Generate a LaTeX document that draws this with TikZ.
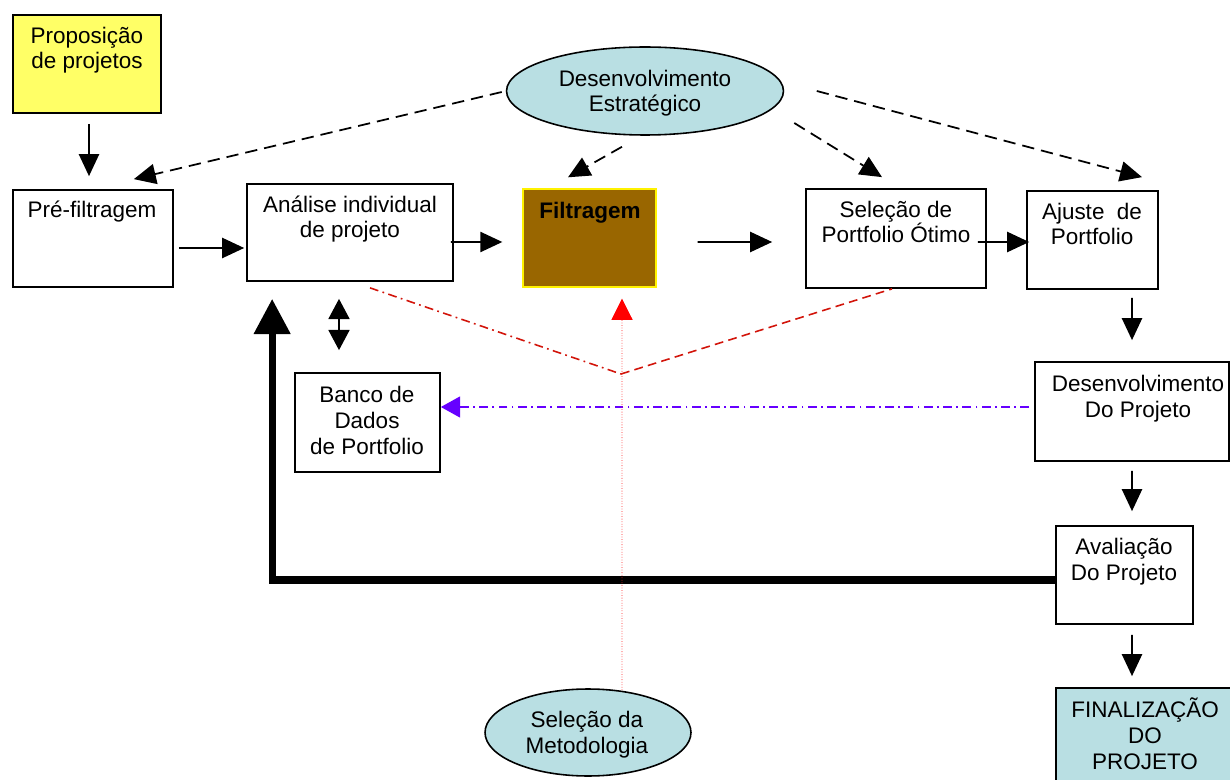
\documentclass[tikz,border=0pt]{standalone}
\usepackage{fontspec}
\setmainfont{Liberation Sans}
\usetikzlibrary{arrows.meta,shapes.geometric,calc}
\definecolor{lightteal}{RGB}{185,223,227}
\definecolor{propyellow}{RGB}{255,255,102}
\definecolor{filtbrown}{RGB}{153,102,0}
\definecolor{darkred}{RGB}{210,20,10}
\definecolor{purpleline}{RGB}{102,0,255}
\begin{document}
\begin{tikzpicture}[x=0.02cm,y=-0.02cm,
  box/.style={draw=black, line width=1pt, inner sep=0pt},
  ell/.style={ellipse, draw=black, line width=0.9pt, fill=lightteal, inner sep=0pt},
  txt/.style={anchor=base, align=center, inner sep=0pt, font=\fontsize{12.8}{14.6}\selectfont},
  arr/.style={line width=0.9pt, -{Triangle[length=12.5pt,width=11.5pt]}},
  dasharr/.style={arr, line width=1pt, dash pattern=on 7pt off 4pt},
  reddd/.style={draw=darkred, line width=0.9pt, dash pattern=on 5pt off 2.5pt on 1pt off 2.5pt},
  reddash/.style={draw=darkred, line width=0.9pt, dash pattern=on 5pt off 3pt},
  redarr/.style={draw=red!85, line width=0.45pt, densely dotted, -{Triangle[length=12pt,width=12pt,color=red]}},
  dbl/.style={line width=0.9pt, {Triangle[length=11.5pt,width=12pt]}-{Triangle[length=11.5pt,width=12pt]}},
  purp/.style={draw=purpleline, line width=0.9pt, dash pattern=on 5pt off 2.5pt on 1pt off 2.5pt, -{Triangle[length=11pt,width=12pt]}},
  fb/.style={line width=4pt, line join=miter, -{Triangle[length=20pt,width=20pt]}}
]
\useasboundingbox (0,0) rectangle (1230,780);
\clip (0,0) rectangle (1230,780);

% boxes
\node[box, fill=propyellow, minimum width=2.96cm, minimum height=1.96cm] (prop) at (87,64) {};
\node[txt] (prop-t) at (87,69) {Proposição\\de projetos};
\node[box, minimum width=3.2cm, minimum height=1.94cm] (pre) at (93,238.5) {};
\node[txt] (pre-t) at (92,218) {Pré-filtragem};
\node[box, minimum width=4.12cm, minimum height=1.94cm] (ana) at (350,232.5) {};
\node[txt] (ana-t) at (350,238) {Análise individual\\de projeto};
\node[draw=yellow, line width=0.8pt, fill=filtbrown, inner sep=0pt, minimum width=2.66cm, minimum height=1.96cm] (filt) at (589.5,238) {};
\node[txt, font=\fontsize{12.8}{14.6}\selectfont\bfseries] (filt-t) at (590,219) {Filtragem};
\node[box, minimum width=3.6cm, minimum height=1.98cm] (sel) at (896,238.5) {};
\node[txt] (sel-t) at (896,243) {Seleção de\\Portfolio Ótimo};
\node[box, minimum width=2.62cm, minimum height=1.96cm] (aju) at (1092.5,240) {};
\node[txt] (aju-t) at (1092,245) {Ajuste\ \ de\\Portfolio};
\node[box, minimum width=3.88cm, minimum height=1.98cm] (dev) at (1132,411.5) {};
\node[txt] (dev-t) at (1138,417) {Desenvolvimento\\Do Projeto};
\node[box, minimum width=2.74cm, minimum height=1.96cm] (ava) at (1124.5,575) {};
\node[txt] (ava-t) at (1124,580) {Avaliação\\Do Projeto};
\node[box, fill=lightteal, minimum width=3.68cm, minimum height=2.04cm] (fin) at (1148,739) {};
\node[txt] (fin-t) at (1145,769) {FINALIZAÇÃO\\DO\\PROJETO};
\node[box, minimum width=2.9cm, minimum height=1.98cm] (banco) at (367.5,422.5) {};
\node[txt] (banco-t) at (367,454) {Banco de\\Dados\\de Portfolio};

% ellipses
\node[ell, minimum width=5.54cm, minimum height=1.76cm] (est) at (645,91) {};
\node[txt] (est-t) at (645,112) {Desenvolvimento\\Estratégico};
\node[ell, minimum width=4.12cm, minimum height=1.74cm] (met) at (588,732.5) {};
\node[txt] (met-t) at (587,753) {Seleção da\\Metodologia};

% flow arrows
\draw[arr] ($(prop.south)+(2,10)$) -- ($(pre.north)+(-4,-13)$);
\draw[arr] ($(pre.east)+(5,9.5)$) -- ($(ana.west)+(-2,15.5)$);
\draw[arr] ($(ana.east)+(-3,9.5)$) -- ($(filt.west)+(-20,4)$);
\draw[arr] ($(filt.east)+(41,4)$) -- ($(sel.west)+(-33,3.5)$);
\draw[arr] ($(sel.east)+(-9,3.5)$) -- ($(aju.west)+(3,2)$);
\draw[arr] ($(aju.south)+(39.5,8)$) -- ($(dev.north)+(0,-21)$);
\draw[arr] ($(dev.south)+(0,9)$) -- ($(ava.north)+(7.5,-14)$);
\draw[arr] ($(ava.south)+(7.5,10)$) -- ($(fin.north)+(-16,-11)$);

% dashed from strategic development
\draw[dasharr] ($(est.west)+(-4,1)$) -- ($(pre.north east)+(-40,-10)$);
\draw[dasharr] ($(est.south)+(-23,11)$) -- ($(filt.north)+(-21.5,-11)$);
\draw[dasharr] ($(est.east)+(10,32)$) -- ($(sel.north)+(-14,-11)$);
\draw[dasharr] ($(est.east)+(32.5,0)$) -- ($(aju.north)+(49.5,-13)$);

% red V lines
\coordinate (vee) at (621,374);
\draw[reddd] ($(ana.south)+(20,6)$) -- (vee);
\draw[reddash] (vee) -- ($(sel.south)+(-4,0)$);

% double arrow
\draw[dbl] ($(ana.south)+(-11,17)$) -- ($(banco.north)+(-28.5,-22)$);

% purple
\draw[purp] ($(dev.west)+(-5,-4.5)$) -- ($(banco.east)+(0,-15.5)$);

% thick feedback
\draw[fb] ($(ava.west)+(0,5)$) -| ($(ana.south west)+(26,17)$);

% red vertical
\draw[redarr] ($(met.north)+(34,2)$) -- ($(filt.south)+(32.5,11)$);
\end{tikzpicture}
\end{document}
